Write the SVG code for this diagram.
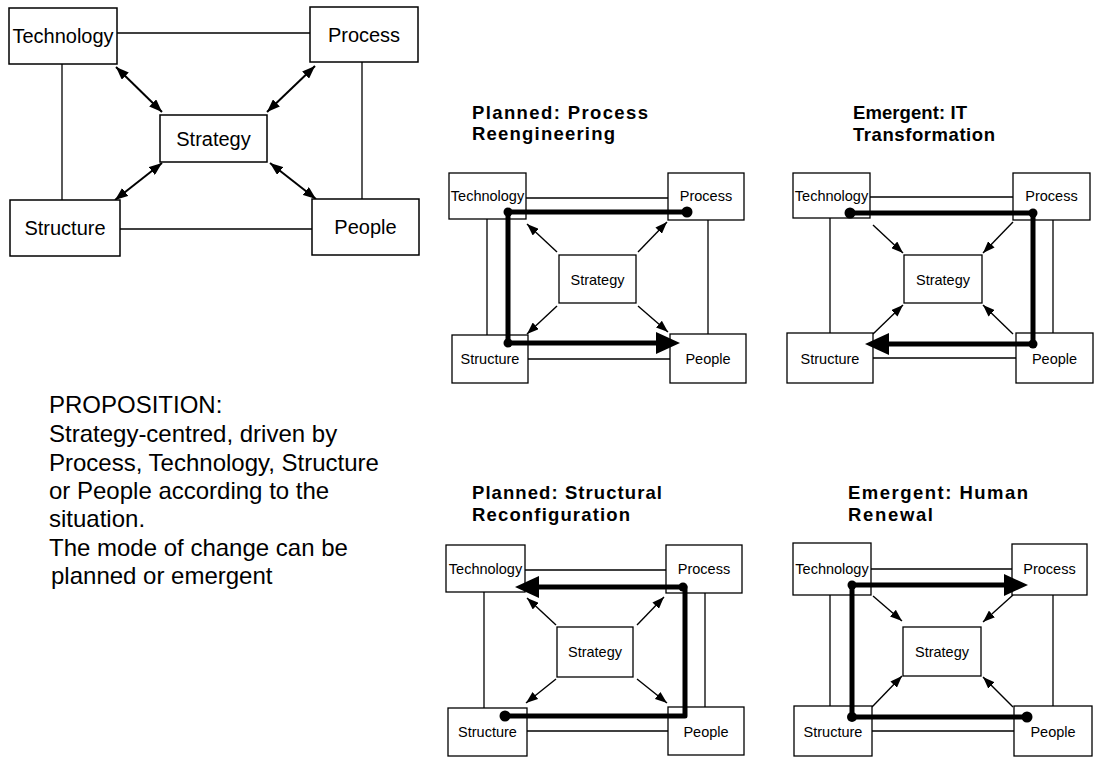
<svg xmlns="http://www.w3.org/2000/svg" width="1096" height="761" viewBox="0 0 1096 761">
  <style>
    .box { fill: #fff; stroke: #000; stroke-width: 1.5; }
    .sbox { fill: #fff; stroke: #000; stroke-width: 1.3; }
    .lbl { font-family: "Liberation Sans", Arial, sans-serif; font-size: 20px; fill: #000; text-anchor: middle; }
    .slbl { font-family: "Liberation Sans", Arial, sans-serif; font-size: 14.5px; fill: #000; text-anchor: middle; }
    .title { font-family: "Liberation Sans", Arial, sans-serif; font-size: 18.5px; font-weight: bold; fill: #000; }
    .prop { font-family: "Liberation Sans", Arial, sans-serif; font-size: 24px; fill: #000; }
    .link { fill: none; stroke: #000; stroke-width: 1.3; }
    .dbl { fill: none; stroke: #000; stroke-width: 2; marker-start: url(#headMain); marker-end: url(#headMain); }
    .arr { fill: none; stroke: #000; stroke-width: 1.4; marker-end: url(#headSmall); }
    .flow { fill: none; stroke: #000; stroke-width: 5; stroke-linejoin: round; }
    .flowArr { marker-end: url(#headThick); }
    .dot { fill: #000; }
  </style>
  <defs>
    <marker id="headMain" viewBox="0 0 13 10" refX="13" refY="5" markerWidth="13" markerHeight="10" markerUnits="userSpaceOnUse" orient="auto-start-reverse">
      <path d="M0,0 L13,5 L0,10 z" fill="#000"/>
    </marker>
    <marker id="headSmall" viewBox="0 0 12 9" refX="12" refY="4.5" markerWidth="12" markerHeight="9" markerUnits="userSpaceOnUse" orient="auto">
      <path d="M0,0 L12,4.5 L0,9 z" fill="#000"/>
    </marker>
    <marker id="headThick" viewBox="0 0 24 22" refX="14" refY="11" markerWidth="24" markerHeight="22" markerUnits="userSpaceOnUse" orient="auto">
      <path d="M0,0 L24,11 L0,22 z" fill="#000"/>
    </marker>
  </defs>
  <rect width="1096" height="761" fill="#fff"/>

  <!-- ===== Main model ===== -->
  <g id="main-connectors">
    <line class="link" x1="117" y1="33" x2="310" y2="33"/>
    <line class="link" x1="62" y1="64" x2="62" y2="200"/>
    <line class="link" x1="362" y1="62" x2="362" y2="199"/>
    <line class="link" x1="120" y1="229" x2="312" y2="229"/>
    <line class="dbl" x1="116" y1="67" x2="162" y2="112"/>
    <line class="dbl" x1="315" y1="66" x2="267" y2="112"/>
    <line class="dbl" x1="162" y1="163" x2="115" y2="200"/>
    <line class="dbl" x1="270" y1="163" x2="316" y2="199"/>
  </g>
  <g id="main-technology"><rect class="box" x="9" y="8" width="108" height="56"/><text class="lbl" x="63" y="43">Technology</text></g>
  <g id="main-process"><rect class="box" x="310" y="7" width="108" height="55"/><text class="lbl" x="364" y="42">Process</text></g>
  <g id="main-strategy"><rect class="box" x="160" y="115" width="107" height="47"/><text class="lbl" x="213.5" y="146">Strategy</text></g>
  <g id="main-structure"><rect class="box" x="10" y="200" width="110" height="56"/><text class="lbl" x="65" y="235">Structure</text></g>
  <g id="main-people"><rect class="box" x="312" y="199" width="107" height="56"/><text class="lbl" x="365.5" y="234">People</text></g>

  <!-- ===== Proposition ===== -->
  <g id="proposition">
    <text class="prop" x="49" y="413">PROPOSITION:</text>
    <text class="prop" x="49" y="442">Strategy-centred, driven by</text>
    <text class="prop" x="49" y="471">Process, Technology, Structure</text>
    <text class="prop" x="49" y="499">or People according to the</text>
    <text class="prop" x="49" y="527">situation.</text>
    <text class="prop" x="49" y="556">The mode of change can be</text>
    <text class="prop" x="51" y="584">planned or emergent</text>
  </g>

  <!-- ===== Planned: Process Reengineering ===== -->
  <g id="pr-title">
    <text class="title" x="472" y="119" textLength="176" lengthAdjust="spacing">Planned: Process</text>
    <text class="title" x="472" y="140" textLength="143" lengthAdjust="spacing">Reengineering</text>
  </g>
  <g id="pr-connectors">
    <line class="link" x1="526" y1="198" x2="668" y2="198"/>
    <line class="link" x1="487" y1="219" x2="487" y2="335"/>
    <line class="link" x1="708" y1="220" x2="708" y2="334"/>
    <line class="link" x1="528" y1="359" x2="670" y2="359"/>
    <line class="arr" x1="557" y1="252" x2="527" y2="224"/>
    <line class="arr" x1="638" y1="252" x2="667" y2="222"/>
    <line class="arr" x1="557" y1="306" x2="527" y2="334"/>
    <line class="arr" x1="638" y1="306" x2="668" y2="332"/>
  </g>
  <g id="pr-technology"><rect class="sbox" x="449" y="173" width="77" height="46"/><text class="slbl" x="487.5" y="201">Technology</text></g>
  <g id="pr-process"><rect class="sbox" x="668" y="173" width="76" height="47"/><text class="slbl" x="706" y="201">Process</text></g>
  <g id="pr-strategy"><rect class="sbox" x="559" y="255" width="77" height="48"/><text class="slbl" x="597.5" y="285">Strategy</text></g>
  <g id="pr-structure"><rect class="sbox" x="452" y="335" width="76" height="48"/><text class="slbl" x="490" y="364">Structure</text></g>
  <g id="pr-people"><rect class="sbox" x="670" y="334" width="76" height="49"/><text class="slbl" x="708" y="364">People</text></g>
  <g id="pr-flow">
    <polyline class="flow flowArr" points="687,212 508,212 508,343 670,343"/>
    <circle class="dot" cx="687" cy="212" r="5.5"/>
    <circle class="dot" cx="508" cy="212" r="4.5"/>
    <circle class="dot" cx="508" cy="343" r="4.5"/>
  </g>

  <!-- ===== Emergent: IT Transformation ===== -->
  <g id="it-title">
    <text class="title" x="853" y="119" textLength="114" lengthAdjust="spacing">Emergent: IT</text>
    <text class="title" x="853" y="141" textLength="142" lengthAdjust="spacing">Transformation</text>
  </g>
  <g id="it-connectors">
    <line class="link" x1="870" y1="197" x2="1013" y2="197"/>
    <line class="link" x1="830" y1="218" x2="830" y2="333"/>
    <line class="link" x1="1053" y1="220" x2="1053" y2="333"/>
    <line class="link" x1="873" y1="358" x2="1016" y2="358"/>
    <line class="arr" x1="873" y1="225" x2="903" y2="253"/>
    <line class="arr" x1="1013" y1="222" x2="983" y2="253"/>
    <line class="arr" x1="873" y1="334" x2="903" y2="305"/>
    <line class="arr" x1="1013" y1="334" x2="983" y2="305"/>
  </g>
  <g id="it-technology"><rect class="sbox" x="793" y="173" width="77" height="45"/><text class="slbl" x="831.5" y="201">Technology</text></g>
  <g id="it-process"><rect class="sbox" x="1013" y="173" width="77" height="47"/><text class="slbl" x="1051.5" y="201">Process</text></g>
  <g id="it-strategy"><rect class="sbox" x="904" y="255" width="78" height="48"/><text class="slbl" x="943" y="285">Strategy</text></g>
  <g id="it-structure"><rect class="sbox" x="787" y="333" width="86" height="50"/><text class="slbl" x="830" y="364">Structure</text></g>
  <g id="it-people"><rect class="sbox" x="1016" y="333" width="77" height="50"/><text class="slbl" x="1054.5" y="364">People</text></g>
  <g id="it-flow">
    <polyline class="flow flowArr" points="850,213 1033,213 1033,344 875,344"/>
    <circle class="dot" cx="850" cy="213" r="5.5"/>
    <circle class="dot" cx="1033" cy="213" r="4.5"/>
    <circle class="dot" cx="1033" cy="344" r="4.5"/>
  </g>

  <!-- ===== Planned: Structural Reconfiguration ===== -->
  <g id="sr-title">
    <text class="title" x="472" y="499" textLength="190" lengthAdjust="spacing">Planned: Structural</text>
    <text class="title" x="472" y="521" textLength="158" lengthAdjust="spacing">Reconfiguration</text>
  </g>
  <g id="sr-connectors">
    <line class="link" x1="525" y1="570" x2="666" y2="570"/>
    <line class="link" x1="484" y1="592" x2="484" y2="708"/>
    <line class="link" x1="705" y1="593" x2="705" y2="707"/>
    <line class="link" x1="527" y1="731" x2="668" y2="731"/>
    <line class="arr" x1="556" y1="625" x2="527" y2="598"/>
    <line class="arr" x1="637" y1="625" x2="664" y2="597"/>
    <line class="arr" x1="556" y1="679" x2="526" y2="703"/>
    <line class="arr" x1="637" y1="679" x2="667" y2="703"/>
  </g>
  <g id="sr-technology"><rect class="sbox" x="446" y="545" width="79" height="47"/><text class="slbl" x="485.5" y="574">Technology</text></g>
  <g id="sr-process"><rect class="sbox" x="666" y="545" width="76" height="48"/><text class="slbl" x="704" y="574">Process</text></g>
  <g id="sr-strategy"><rect class="sbox" x="557" y="627" width="76" height="50"/><text class="slbl" x="595" y="657">Strategy</text></g>
  <g id="sr-structure"><rect class="sbox" x="448" y="708" width="79" height="48"/><text class="slbl" x="487.5" y="737">Structure</text></g>
  <g id="sr-people"><rect class="sbox" x="668" y="707" width="76" height="48"/><text class="slbl" x="706" y="737">People</text></g>
  <g id="sr-flow">
    <polyline class="flow flowArr" points="505,716 685,716 685,587 525,587"/>
    <circle class="dot" cx="505" cy="716" r="5.5"/>
    <circle class="dot" cx="683" cy="587" r="4.5"/>
  </g>

  <!-- ===== Emergent: Human Renewal ===== -->
  <g id="hr-title">
    <text class="title" x="848" y="499" textLength="180" lengthAdjust="spacing">Emergent: Human</text>
    <text class="title" x="848" y="521" textLength="85" lengthAdjust="spacing">Renewal</text>
  </g>
  <g id="hr-connectors">
    <line class="link" x1="871" y1="569" x2="1012" y2="569"/>
    <line class="link" x1="830" y1="595" x2="830" y2="706"/>
    <line class="link" x1="1053" y1="595" x2="1053" y2="706"/>
    <line class="link" x1="872" y1="731" x2="1014" y2="731"/>
    <line class="arr" x1="873" y1="596" x2="902" y2="621"/>
    <line class="arr" x1="1013" y1="595" x2="983" y2="622"/>
    <line class="arr" x1="872" y1="707" x2="902" y2="676"/>
    <line class="arr" x1="1013" y1="707" x2="983" y2="677"/>
  </g>
  <g id="hr-technology"><rect class="sbox" x="793" y="543" width="78" height="52"/><text class="slbl" x="832" y="574">Technology</text></g>
  <g id="hr-process"><rect class="sbox" x="1012" y="544" width="75" height="51"/><text class="slbl" x="1049.5" y="574">Process</text></g>
  <g id="hr-strategy"><rect class="sbox" x="903" y="627" width="78" height="49"/><text class="slbl" x="942" y="657">Strategy</text></g>
  <g id="hr-structure"><rect class="sbox" x="794" y="706" width="78" height="50"/><text class="slbl" x="833" y="737">Structure</text></g>
  <g id="hr-people"><rect class="sbox" x="1014" y="706" width="78" height="50"/><text class="slbl" x="1053" y="737">People</text></g>
  <g id="hr-flow">
    <polyline class="flow flowArr" points="1027,717 852,717 852,585 1018,585"/>
    <circle class="dot" cx="1027" cy="717" r="5.5"/>
    <circle class="dot" cx="852" cy="717" r="5"/>
    <circle class="dot" cx="852" cy="585" r="4.5"/>
  </g>
</svg>
